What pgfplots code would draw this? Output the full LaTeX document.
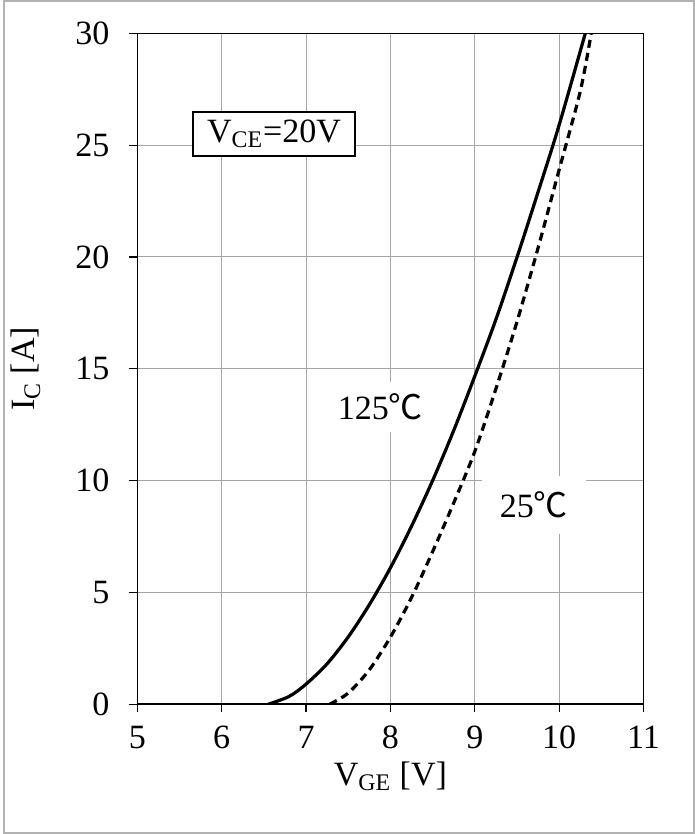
\documentclass[border=0pt]{standalone}
\usepackage{fontspec}
\setmainfont{Liberation Serif}
\newfontfamily\cjk{Noto Sans CJK SC}
\usepackage{pgfplots}
\pgfplotsset{compat=1.18}

\begin{document}
\fontsize{17}{20}\selectfont
\begin{tikzpicture}
\begin{axis}[
    scale only axis,
    width=252bp, height=334bp,
    xmin=5, xmax=11, ymin=0, ymax=30,
    xtick={5,6,...,11},
    ytick={0,5,...,30},
    xtick pos=bottom, ytick pos=left,
    tick align=outside,
    major tick length=4bp,
    tick style={black, line width=0.6bp},
    axis line style={black, line width=0.8bp},
    grid=major,
    grid style={gray!70, line width=0.5bp},
    /pgf/number format/assume math mode=true,
    ticklabel style={font=\fontsize{17}{20}\selectfont},
    yticklabel style={xshift=-4bp},
    xticklabel style={yshift=-1bp},
    xlabel={V\textsubscript{GE} [V]},
    ylabel={I\textsubscript{C} [A]},
    label style={font=\fontsize{17}{20}\selectfont},
    xlabel style={yshift=5bp},
    ylabel style={yshift=6bp},
]
% 125 C
\addplot[black, line width=1.6bp, smooth] coordinates {
    (6.55,0) (6.8,0.35) (7.0,0.9) (7.25,1.81) (7.5,3.01) (7.75,4.45)
    (8.0,6.1) (8.25,7.96) (8.5,10.0) (8.75,12.24) (9.0,14.67)
    (9.25,17.2) (9.5,19.98) (9.75,22.9) (10.0,25.9) (10.31,30)
};
% 25 C
\addplot[black, line width=1.6bp, dash pattern=on 4bp off 2.6bp, smooth] coordinates {
    (7.28,0) (7.5,0.5) (7.75,1.54) (8.0,3.0) (8.25,4.77) (8.5,6.82)
    (8.75,9.0) (9.0,11.3) (9.25,14.1) (9.5,17.1) (9.75,20.4)
    (10.0,23.9) (10.25,27.4) (10.38,30)
};
\node[draw=black, line width=0.6bp, fill=white, inner xsep=7bp, inner ysep=4bp]
    at (axis cs:6.62,25.5) {V\textsubscript{CE}=20V};
\node[fill=white, inner xsep=3bp, inner ysep=6bp] at (axis cs:7.88,13.3) {125{\cjk ℃}};
\node[fill=white, inner xsep=9bp, inner ysep=8bp] at (axis cs:9.7,8.9) {25{\cjk ℃}};
\end{axis}
\draw[gray!60, line width=1.2bp]
    ([xshift=-66.5bp,yshift=-64bp]current axis.south west) rectangle
    ([xshift=25bp,yshift=16bp]current axis.north east);
\end{tikzpicture}
\end{document}
